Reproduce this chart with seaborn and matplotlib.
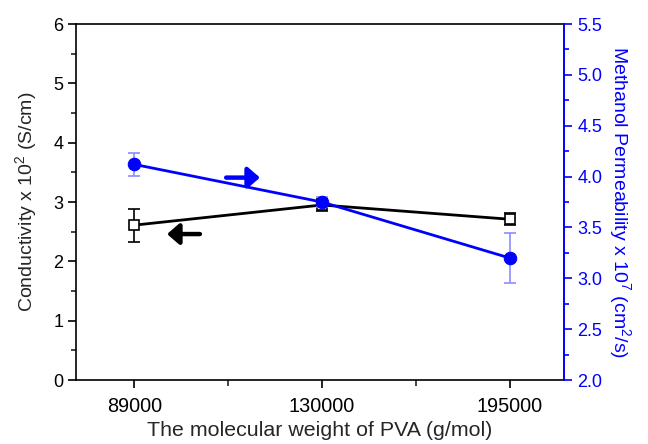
import matplotlib
matplotlib.use("Agg")
import matplotlib.pyplot as plt
import seaborn as sns
import numpy as np
import pandas as pd
from matplotlib.ticker import MultipleLocator

# values
mw_labels = ['89000', '130000', '195000']
conductivity = [2.61, 2.95, 2.71]
conductivity_err = [0.28, 0.10, 0.10]
permeability = [4.12, 3.75, 3.20]
permeability_err = [0.115, 0.05, 0.245]

df = pd.DataFrame({
    'pos': np.arange(len(mw_labels)),
    'MW': mw_labels,
    'Conductivity': conductivity,
    'Permeability': permeability,
})

blue = '#0000FF'
light_blue = '#8C8CFF'

sns.set_style("ticks")
plt.rcParams['font.family'] = ['Liberation Sans', 'DejaVu Sans']
plt.rcParams['mathtext.default'] = 'regular'

fig = plt.figure(figsize=(6.48, 4.44), dpi=100)
ax = fig.add_axes([0.1173, 0.1441, 0.7531, 0.8018])
ax2 = ax.twinx()

# conductivity (left axis)
sns.lineplot(data=df, x='pos', y='Conductivity', ax=ax, color='black', lw=2,
             marker='s', markersize=7, markerfacecolor='white',
             markeredgecolor='black', markeredgewidth=1.2, zorder=3)
ax.errorbar(df['pos'], df['Conductivity'], yerr=conductivity_err, fmt='none',
            ecolor='black', elinewidth=1.2, capsize=4, capthick=1.2, zorder=2)

# methanol permeability (right axis)
sns.lineplot(data=df, x='pos', y='Permeability', ax=ax2, color=blue, lw=2,
             marker='o', markersize=9, markerfacecolor=blue,
             markeredgecolor=blue, zorder=3)
ax2.errorbar(df['pos'], df['Permeability'], yerr=permeability_err, fmt='none',
             ecolor=light_blue, elinewidth=1.2, capsize=4, capthick=1.2, zorder=2)

# direction arrows
arrow_style = '-|>,head_length=0.3,head_width=0.26'
ax.annotate('', xy=(0.175, 2.46), xytext=(0.35, 2.46),
            arrowprops=dict(arrowstyle=arrow_style, color='black', lw=3.2,
                            mutation_scale=24, shrinkA=0, shrinkB=0))
ax2.annotate('', xy=(0.67, 3.99), xytext=(0.49, 3.99),
             arrowprops=dict(arrowstyle=arrow_style, color=blue, lw=3.2,
                             mutation_scale=24, shrinkA=0, shrinkB=0))

ax.set_xlim(-0.31, 2.29)
ax.set_ylim(0, 6)
ax2.set_ylim(2.0, 5.5)

ax.set_xticks(df['pos'])
ax.set_xticklabels(mw_labels)
ax.xaxis.set_minor_locator(MultipleLocator(0.5))
ax.yaxis.set_major_locator(MultipleLocator(1))
ax.yaxis.set_minor_locator(MultipleLocator(0.5))
ax2.yaxis.set_major_locator(MultipleLocator(0.5))
ax2.yaxis.set_minor_locator(MultipleLocator(0.25))
ax2.yaxis.set_major_formatter(matplotlib.ticker.FormatStrFormatter('%.1f'))

ax.tick_params(axis='both', which='major', direction='out', length=6, width=1.2,
               labelsize=13, colors='black')
ax.tick_params(axis='x', which='major', labelsize=14.3, pad=6)
ax.tick_params(axis='y', which='major', pad=3)
ax.tick_params(axis='both', which='minor', direction='out', length=3.5, width=1.2)
ax.tick_params(axis='x', which='minor', length=4)
ax2.tick_params(axis='y', which='major', direction='out', length=6, width=1.2,
                labelsize=13, colors=blue)
ax2.tick_params(axis='y', which='minor', direction='out', length=3.5, width=1.2,
                colors=blue)

for sp in ['left', 'bottom', 'top']:
    ax.spines[sp].set_linewidth(1.2)
    ax.spines[sp].set_color('black')
ax.spines['right'].set_visible(False)
for sp in ['left', 'bottom', 'top']:
    ax2.spines[sp].set_visible(False)
ax2.spines['right'].set_visible(True)
ax2.spines['right'].set_color(blue)
ax2.spines['right'].set_linewidth(1.4)

ax.set_xlabel('The molecular weight of PVA (g/mol)', fontsize=15.4, labelpad=4)
ax.set_ylabel('Conductivity x 10$^2$ (S/cm)', fontsize=14, labelpad=10)
ax2.set_ylabel('Methanol Permeability x 10$^7$ (cm$^2$/s)', fontsize=14,
               color=blue, rotation=270, labelpad=22)

fig.savefig('out.png', dpi=100)
